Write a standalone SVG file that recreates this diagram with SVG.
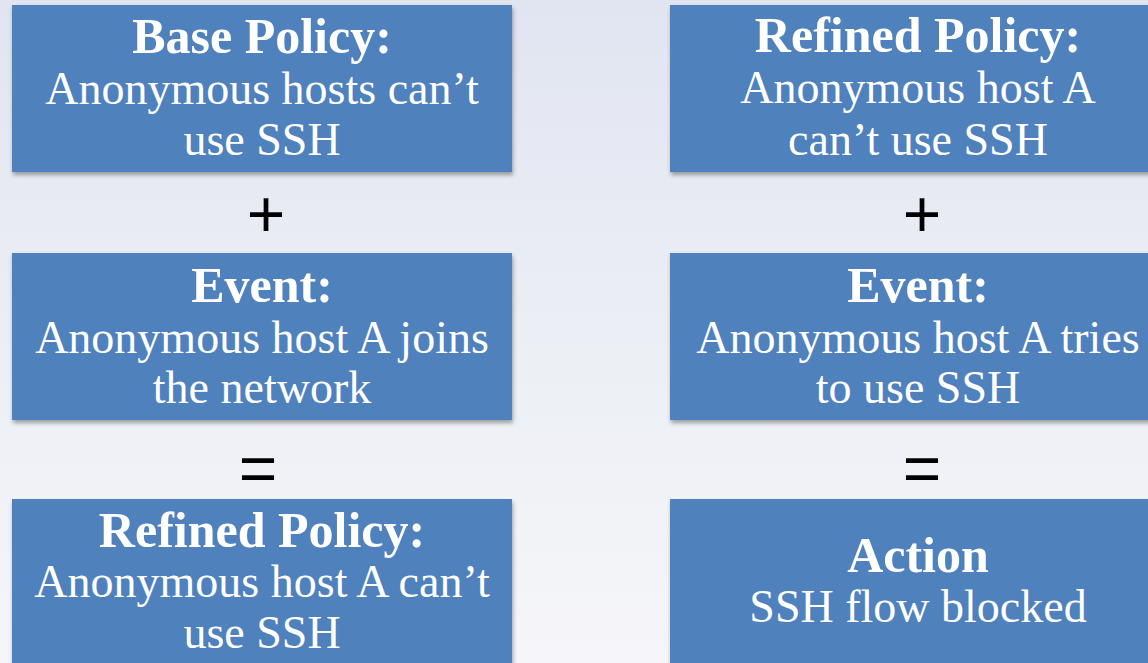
<svg xmlns="http://www.w3.org/2000/svg" width="1148" height="663" viewBox="0 0 1148 663">
<defs>
<linearGradient id="bg" x1="0" y1="0" x2="0" y2="1">
<stop offset="0" stop-color="#E1E5F1"/>
<stop offset="0.6" stop-color="#EDF0F5"/>
<stop offset="1" stop-color="#F6F6FA"/>
</linearGradient>
<filter id="sh" x="-5%" y="-5%" width="110%" height="115%">
<feDropShadow dx="1" dy="3" stdDeviation="2" flood-color="#000" flood-opacity="0.35"/>
</filter>
</defs>
<style>
.box{fill:#4F81BD;filter:url(#sh)}
.t{font-family:"Liberation Serif","Times New Roman",serif;font-size:46px;fill:#fff;text-anchor:middle}
.b{font-weight:bold;font-size:50px}
.op{font-family:"Liberation Sans",Arial,sans-serif;font-size:66px;fill:#000;text-anchor:middle}
</style>
<rect width="1148" height="663" fill="url(#bg)"/>
<g id="base-policy">
<rect class="box" x="12" y="5" width="500" height="167"/>
<text class="t b" x="262" y="53">Base Policy:</text>
<text class="t" x="262" y="104">Anonymous hosts can’t</text>
<text class="t" x="262" y="155">use SSH</text>
</g>
<g id="event-join">
<rect class="box" x="12" y="253" width="500" height="167"/>
<text class="t b" x="262" y="302">Event:</text>
<text class="t" x="262" y="353">Anonymous host A joins</text>
<text class="t" x="262" y="403">the network</text>
</g>
<g id="refined-policy-left">
<rect class="box" x="12" y="499" width="500" height="170"/>
<text class="t b" x="262" y="547">Refined Policy:</text>
<text class="t" x="262" y="597">Anonymous host A can’t</text>
<text class="t" x="262" y="648">use SSH</text>
</g>
<g id="refined-policy-right">
<rect class="box" x="670" y="5" width="496" height="167"/>
<text class="t b" x="918" y="52">Refined Policy:</text>
<text class="t" x="918" y="103">Anonymous host A</text>
<text class="t" x="918" y="155">can’t use SSH</text>
</g>
<g id="event-ssh">
<rect class="box" x="670" y="253" width="496" height="167"/>
<text class="t b" x="918" y="302">Event:</text>
<text class="t" x="918" y="353">Anonymous host A tries</text>
<text class="t" x="918" y="403">to use SSH</text>
</g>
<g id="action">
<rect class="box" x="670" y="499" width="496" height="170"/>
<text class="t b" x="918" y="572">Action</text>
<text class="t" x="918" y="622">SSH flow blocked</text>
</g>
<g id="connectors">
<text class="op" x="266" y="237">+</text>
<text class="op" x="258" y="491">=</text>
<text class="op" x="922" y="237">+</text>
<text class="op" x="922" y="491">=</text>
</g>
</svg>
